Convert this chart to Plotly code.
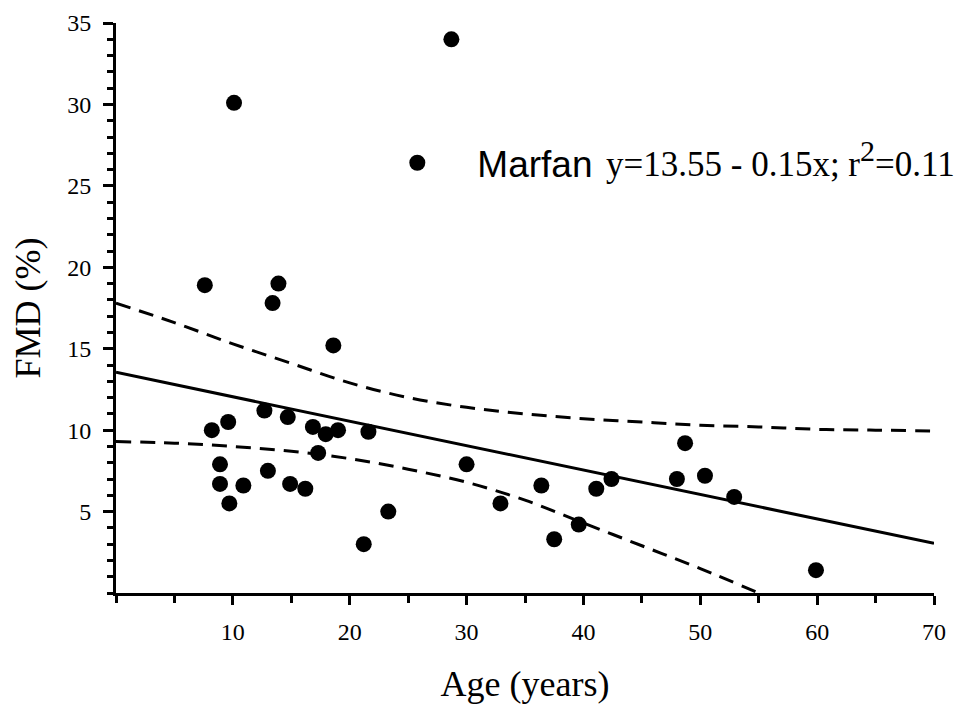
import plotly.graph_objects as go

# Data
age = [7.6, 10.1, 28.7, 13.4, 13.9, 18.6, 8.2, 9.6, 12.7, 14.7, 16.85, 17.95, 19.0,
       21.6, 17.3, 8.9, 8.9, 9.7, 10.9, 13.0, 14.9, 16.2, 21.2, 23.3, 30.0, 32.9,
       36.4, 37.5, 39.6, 41.1, 42.4, 48.0, 48.7, 50.4, 52.9, 59.9]
fmd = [18.9, 30.1, 34.0, 17.8, 19.0, 15.2, 10.0, 10.5, 11.2, 10.8, 10.2, 9.75, 10.0,
       9.9, 8.6, 7.9, 6.7, 5.5, 6.6, 7.5, 6.7, 6.4, 3.0, 5.0, 7.9, 5.5,
       6.6, 3.3, 4.2, 6.4, 7.0, 7.0, 9.2, 7.2, 5.9, 1.4]

fit_x = [0, 70]
fit_y = [13.55, 3.05]

upper_x = [0, 5, 10, 15, 20, 25, 30, 35, 40, 45, 50, 55, 60, 65, 70]
upper_y = [17.8, 16.6, 15.3, 14.1, 12.9, 12.0, 11.4, 11.0, 10.7, 10.5, 10.3, 10.2, 10.05, 10.0, 9.95]

lower_x = [0, 5, 10, 15, 20, 25, 30, 35, 40, 45, 50, 55]
lower_y = [9.3, 9.2, 9.0, 8.7, 8.25, 7.6, 6.8, 5.7, 4.3, 2.9, 1.5, 0.0]

x_ticks = [10, 20, 30, 40, 50, 60, 70]
y_ticks = [5, 10, 15, 20, 25, 30, 35]

series_name = "Marfan"
equation_text = "y=13.55 - 0.15x; r<sup><span style='font-size:30px'>2</span></sup>=0.11"

SERIF = "Liberation Serif"
DASH = "15px,9px"

fig = go.Figure()
fig.add_trace(go.Scatter(x=upper_x, y=upper_y, mode="lines", line_shape="spline",
                         line=dict(color="black", width=3, dash=DASH),
                         showlegend=False, hoverinfo="skip"))
fig.add_trace(go.Scatter(x=lower_x, y=lower_y, mode="lines", line_shape="spline",
                         line=dict(color="black", width=3, dash=DASH),
                         showlegend=False, hoverinfo="skip"))
fig.add_trace(go.Scatter(x=fit_x, y=fit_y, mode="lines",
                         line=dict(color="black", width=3),
                         showlegend=False, hoverinfo="skip"))
fig.add_trace(go.Scatter(x=age, y=fmd, mode="markers", name=series_name,
                         marker=dict(color="black", size=16),
                         cliponaxis=False))

axis_common = dict(
    showline=True, linewidth=3, linecolor="black", mirror=False,
    ticks="outside", tickwidth=2.5, tickcolor="black",
    showgrid=False, zeroline=False, automargin=False,
    tickfont=dict(family=SERIF, size=24, color="black"),
)

# The page body has an 8px default margin, so the figure is sized to fit the window.
fig.update_layout(
    width=959, height=699,
    margin=dict(l=108, r=33, t=15, b=114),
    paper_bgcolor="white", plot_bgcolor="white",
    font=dict(family=SERIF, color="black"),
    xaxis=dict(range=[0, 70], tickmode="array", tickvals=x_ticks,
               ticktext=[str(v) for v in x_ticks], ticklen=9,
               ticklabelstandoff=6,
               minor=dict(dtick=5, tick0=0, ticks="outside", ticklen=7,
                          tickwidth=2.5, tickcolor="black", showgrid=False),
               title=dict(text="Age (years)", font=dict(family=SERIF, size=36),
                          standoff=28),
               **axis_common),
    yaxis=dict(range=[0, 35], tickmode="array", tickvals=y_ticks,
               ticktext=[str(v) for v in y_ticks], ticklen=10,
               ticklabelstandoff=7,
               minor=dict(dtick=1, tick0=0, ticks="outside", ticklen=6,
                          tickwidth=2.5, tickcolor="black", showgrid=False),
               title=dict(text="FMD (%)", font=dict(family=SERIF, size=36),
                          standoff=24),
               **axis_common),
    showlegend=True,
    legend=dict(x=0.295, y=0.754, xanchor="left", yanchor="middle",
                bgcolor="rgba(0,0,0,0)", borderwidth=0, itemwidth=110,
                font=dict(family="Liberation Sans", size=37, color="black")),
    annotations=[dict(text=equation_text, xref="paper", yref="paper",
                      x=0.596, y=0.761, xanchor="left", yanchor="middle",
                      showarrow=False,
                      font=dict(family=SERIF, size=35, color="black"))],
)

fig.write_html("out.html")
